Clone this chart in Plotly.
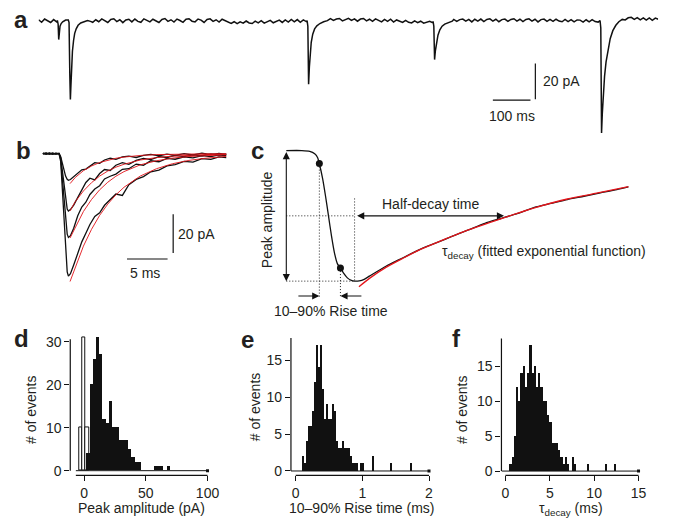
import numpy as np
import plotly.graph_objects as go

W, H = 675, 523
FONT = "Liberation Sans, Arial, Helvetica, sans-serif"
INK = "#231f20"
RED = "#e3151b"

# ---------------- panel a : continuous recording (ms, pA) ----------------
a_step_ms = 8
a_baseline_pA = [
    0.6, -0.8, 1.0, -0.2, -0.9, 0.7, -0.6, 0.9, -0.7, 0.4,
    0.2, -0.7, 0.8, -1.1, 0.5, 0.9, -0.4, 1.0, -0.8, 0.6,
    -0.5, 1.1, -0.1, -0.9, 0.8, 1.2, -0.4, 0.6, -1.0, 0.5,
    0.9, -0.6, 1.0, -0.3, -0.8, 1.1, 0.3, -0.6, 0.9, -0.1,
    -0.9, 0.8, 1.3, -0.3, 0.6, -0.7, 1.0, 0.2, -0.8, 0.9,
    1.2, -0.2, -0.6, 1.0, 0.4, -0.9, 0.8, 1.1, -0.3, 0.6,
    -0.7, 0.9, 0.1, -1.0, -1.4, -0.5, -1.6, -0.6, -1.3, -0.1,
    -1.2, -1.5, -0.2, -1.1, 0.1, -1.3, -0.5, 0.3, -1.1, -0.2,
    0.4, -0.9, 0.5, -0.7, 0.8, -0.6, 0.7, -0.8, 0.5, -0.4,
    0.6, -0.5, 0.9, 0.0, -0.6, 1.0, 0.1, 1.2, 0.2, 1.0,
    1.3, 0.0, 0.9, 1.4, 0.2, 1.1, -0.2, 1.0, 1.3, 0.0,
    0.9, -0.3, 1.1, 0.1, -0.6, 0.8, -0.3, 0.9, -0.7, 0.5,
    -0.4, -0.9, 0.3, -0.8, -1.2, 0.0, -1.0, -0.2, -1.3, -0.6,
    -0.3, -1.1, 0.3, -0.2, -0.7, 0.6, -0.2, -0.6, 0.8, -0.3,
    0.7, 1.0, -0.2, 0.8, -0.6, 0.9, -0.1, 1.0, -0.4, 0.8,
    1.1, -0.1, 0.9, -0.5, 0.7, 1.0, -0.3, 0.8, 1.2, -0.1,
    0.9, -0.4, 0.8, 1.1, -0.1, 0.9, -0.6, 0.7, 1.0, -0.3,
    0.8, -0.3, 0.9, -0.1, -0.5, 0.8, -0.4, 0.7, -0.6, 0.5,
    0.4, -0.7, 0.6, -0.6, 0.7, -0.4, -0.7, 0.5, 0.8, -0.2,
    1.2, 0.7, 1.9, 0.6, 1.8, 0.5, 1.7, 2.0, 0.8, 1.8,
    0.6, 1.7, 0.4, 1.6, 0.3, 1.5, 0.9,
]
a_ev0_t = [50, 52, 53.5, 55, 57, 60, 64, 70]
a_ev0_i = [0.2, -2.0, -10.5, -6.0, -3.0, -1.5, -0.5, 0.2]
a_ev1_t = [79, 81, 83, 84.5, 86, 88, 90, 93, 96, 100, 105, 112, 120, 130, 138]
a_ev1_i = [0.4, -1.0, -30, -44, -36, -25, -17, -11, -7, -4.5, -2.5, -1.2, -0.4, 0.2, -0.3]
a_ev3_t = [714, 716, 718, 720, 722, 725, 729, 734, 740, 748, 758, 768]
a_ev3_i = [0.1, -3.0, -35.5, -26, -18, -12, -7.5, -4.5, -2.8, -1.5, -0.5, 0.1]
a_ev4_t = [1049, 1051, 1053, 1055, 1058, 1062, 1067, 1073, 1080, 1090, 1100]
a_ev4_i = [-0.3, -3.0, -21.7, -17, -12, -8, -5, -3, -1.8, -0.8, -0.2]
a_ev5_t = [1493, 1495, 1497, 1499, 1502, 1505, 1509, 1514, 1520, 1527, 1535, 1543, 1552]
a_ev5_i = [0.2, -4.0, -62.8, -52, -40, -31, -23, -16, -10, -5.5, -2.5, -0.5, 0.8]
a_scalebar_ms = 100
a_scalebar_pA = 20

# ---------------- panel b : averaged events with fits (ms, pA) ----------------
b_t = [0, 0.4, 0.8, 1.2, 1.6, 2.0, 2.2, 2.5, 2.8, 3.0, 3.15, 3.4, 3.8, 4.3, 4.8, 5.3,
       5.8, 6.4, 7.0, 7.6, 8.3, 9.0, 9.8, 10.6, 11.5, 12.4, 13.3, 14.3, 15.3, 16.3,
       17.4, 18.5, 19.6, 20.7, 21.7, 22.6]
b_trace1 = [0.3, -0.2, 0.4, -0.1, 0.3, 0.1, -1.5, -7, -11.5, -13.2, -13.7, -13.3, -12.0,
            -10.2, -8.3, -7.9, -6.3, -4.6, -4.9, -3.2, -2.2, -2.9, -1.6, -1.2, -1.9, -0.8,
            -0.3, -1.0, -0.2, -0.8, 0.1, -0.6, 0.3, -0.4, 0.2, -0.3]
b_trace2 = [0.1, 0.4, -0.3, 0.2, -0.1, 0.3, -2, -13, -24, -28.5, -29.6, -28.8, -26.5,
            -22.5, -18.0, -14.8, -12.6, -13.5, -10.2, -8.1, -8.6, -5.9, -4.6, -5.4, -3.4,
            -2.4, -3.0, -1.5, -1.9, -0.8, -1.4, -0.5, -1.1, 0.0, -0.7, -0.2]
b_trace3 = [-0.2, 0.3, 0.0, 0.4, -0.2, 0.1, -3, -19, -35, -41.5, -43.2, -42.3, -38.5,
            -32.0, -27.5, -25.0, -21.0, -18.2, -16.5, -13.0, -11.6, -10.5, -8.0, -7.7,
            -5.3, -5.9, -3.6, -4.1, -2.4, -2.8, -1.6, -2.1, -0.9, -1.4, -0.5, -1.0]
b_trace4 = [0.2, -0.1, 0.3, -0.3, 0.2, 0.0, -4, -28, -52, -61, -63.2, -62.0, -57.5,
            -51.0, -45.5, -41.0, -36.5, -32.4, -30.5, -26.6, -23.5, -20.8, -21.5, -16.0,
            -13.2, -11.8, -9.3, -8.4, -6.2, -5.6, -3.9, -4.3, -2.5, -2.9, -1.6, -2.0]
b_fit_t = [3.35, 4, 5, 6, 7, 8, 9, 10, 12, 14, 16, 18, 20, 22.6]
b_fit1 = [-15.4, -12.2, -8.7, -6.3, -4.5, -3.2, -2.3, -1.7, -0.85, -0.4, -0.2, -0.1, 0.0, 0.0]
b_fit2 = [-29.5, -24.7, -19.2, -14.9, -11.5, -8.9, -6.9, -5.4, -3.2, -1.95, -1.2, -0.7, -0.4, -0.2]
b_fit3 = [-43.5, -37.8, -29.8, -23.6, -18.6, -14.7, -11.6, -9.2, -5.7, -3.6, -2.2, -1.4, -0.87, -0.47]
b_fit4 = [-66.0, -58.4, -47.7, -39.0, -31.8, -26.0, -21.2, -17.3, -11.5, -7.7, -5.1, -3.4, -2.3, -1.35]
b_scalebar_ms = 5
b_scalebar_pA = 20

# ---------------- panel c : schematic event (arb. time, normalised amplitude) ----------------
c_u = [0, 1.57, 2.37, 2.87, 3.17, 3.34, 3.67, 3.97, 4.27, 4.57, 4.87, 5.17, 5.47, 5.77,
       6.17, 6.57, 6.9, 7.37, 7.87, 8.4, 10.07, 11.74, 13.4, 15.07, 16.74, 18.4, 20.07,
       21.74, 23.4, 25.07, 26.74, 28.4, 30.07, 31.74, 33.4, 34.57]
c_a = [0, 0, -0.006, -0.025, -0.055, -0.101, -0.215, -0.352, -0.504, -0.656, -0.785,
       -0.868, -0.9, -0.937, -0.975, -0.995, -1.0, -0.998, -0.986, -0.962, -0.886, -0.823,
       -0.760, -0.709, -0.658, -0.608, -0.557, -0.519, -0.481, -0.435, -0.405, -0.375,
       -0.350, -0.324, -0.299, -0.278]
c_fit_u = [7.34, 8.4, 10.07, 11.74, 13.4, 15.07, 18.4, 21.74, 25.07, 28.4, 31.74, 34.57]
c_fit_a = [-1.043, -0.979, -0.895, -0.827, -0.763, -0.709, -0.608, -0.521, -0.439, -0.371,
           -0.321, -0.276]
c_dot_u = [3.34, 5.47]          # 10 % and 90 % points
c_dot_a = [-0.1, -0.9]
c_peak_u = 6.9                  # time of peak
c_half_decay_u = 22.0           # time when decay reaches 50 %

# ---------------- histograms ----------------
d_noise_x = [-2.6, 0.0, 2.6]
d_noise_n = [10, 31, 10]
d_bin_start, d_bin_w = 2.1, 2.6
d_counts = [4, 20, 26, 31, 27, 12, 11, 16, 10, 10, 7, 7, 7, 5, 3, 2, 2, 0, 0, 0, 0, 1, 1, 1, 0, 1]
d_xticks = [0, 50, 100]
d_yticks = [0, 10, 20, 30]

e_bin_start, e_bin_w = 0.095, 0.03
e_counts = [2, 1, 4, 6, 6, 8, 12, 17, 14, 17,
            11, 7, 9, 7, 7, 9, 8, 4, 3, 3,
            4, 3, 3, 3, 2, 1, 1, 1, 0, 1,
            1, 0, 0, 0, 0, 2, 0, 0, 0, 0,
            0, 0, 0, 0, 1, 0, 0, 0, 0, 0,
            0, 0, 0, 0, 1]
e_xticks = [0, 1, 2]
e_yticks = [0, 5, 10, 15]

f_bin_start, f_bin_w = 0.5, 0.25
f_counts = [1, 2, 5, 12, 10, 14, 15, 12, 14, 18,
            14, 15, 12, 14, 12, 10, 10, 8, 7, 4,
            4, 4, 3, 2, 1, 2, 1, 0, 2, 1,
            0, 0, 0, 0, 0, 1, 0, 0, 0, 0,
            0, 0, 0, 1, 0, 0, 0, 1]
f_xticks = [0, 5, 10, 15]
f_yticks = [0, 5, 10, 15]


# ---------------- helpers ----------------
def xd(p0, p1):
    return [p0 / W, p1 / W]


def yd(top, bot):
    return [1 - bot / H, 1 - top / H]


def px(x):
    return x / W


def py(y):
    return 1 - y / H


fig = go.Figure()

# ---- panel a trace ----
events = [(a_ev0_t, a_ev0_i), (a_ev1_t, a_ev1_i), (a_ev3_t, a_ev3_i),
          (a_ev4_t, a_ev4_i), (a_ev5_t, a_ev5_i)]
pts = []
for k, v in enumerate(a_baseline_pA):
    t = k * a_step_ms
    if any(et[0] <= t <= et[-1] for et, _ in events):
        continue
    pts.append((t, v))
for et, ei in events:
    pts += list(zip(et, ei))
pts.sort()
fig.add_trace(go.Scatter(x=[p[0] for p in pts], y=[p[1] for p in pts], mode="lines",
                         line=dict(color="#111111", width=1.5), xaxis="x", yaxis="y"))

# ---- panel b traces ----
for tr in (b_trace1, b_trace2, b_trace3, b_trace4):
    fig.add_trace(go.Scatter(x=b_t, y=tr, mode="lines", line=dict(color="#111111", width=1.3),
                             xaxis="x2", yaxis="y2"))
for ft in (b_fit1, b_fit2, b_fit3, b_fit4):
    fig.add_trace(go.Scatter(x=b_fit_t, y=ft, mode="lines", line=dict(color=RED, width=1.0),
                             opacity=0.9, xaxis="x2", yaxis="y2"))

# ---- panel c ----
fig.add_trace(go.Scatter(x=c_u, y=c_a, mode="lines", line=dict(color="#111111", width=1.3,
                         shape="spline", smoothing=0.6), xaxis="x3", yaxis="y3"))
fig.add_trace(go.Scatter(x=c_fit_u, y=c_fit_a, mode="lines",
                         line=dict(color=RED, width=1.3, shape="spline", smoothing=0.6),
                         xaxis="x3", yaxis="y3"))
fig.add_trace(go.Scatter(x=c_dot_u, y=c_dot_a, mode="markers",
                         marker=dict(color="#111111", size=7), xaxis="x3", yaxis="y3"))

# ---- histograms ----
fig.add_trace(go.Bar(x=d_noise_x, y=d_noise_n, width=d_bin_w,
                     marker=dict(color="white", line=dict(color="#111111", width=1)),
                     xaxis="x4", yaxis="y4"))
d_x = [d_bin_start + d_bin_w * (k + 0.5) for k in range(len(d_counts))]
fig.add_trace(go.Bar(x=d_x, y=d_counts, width=d_bin_w,
                     marker=dict(color="#111111", line=dict(width=0)), xaxis="x4", yaxis="y4"))
e_x = [e_bin_start + e_bin_w * (k + 0.5) for k in range(len(e_counts))]
fig.add_trace(go.Bar(x=e_x, y=e_counts, width=e_bin_w,
                     marker=dict(color="#111111", line=dict(width=0)), xaxis="x5", yaxis="y5"))
f_x = [f_bin_start + f_bin_w * (k + 0.5) for k in range(len(f_counts))]
fig.add_trace(go.Bar(x=f_x, y=f_counts, width=f_bin_w,
                     marker=dict(color="#111111", line=dict(width=0)), xaxis="x6", yaxis="y6"))

# end markers of histogram baselines
for xa, ya, xend in (("x4", "y4", d_xticks[-1]), ("x5", "y5", e_xticks[-1]), ("x6", "y6", f_xticks[-1])):
    fig.add_trace(go.Scatter(x=[xend], y=[0], mode="markers",
                             marker=dict(color="#111111", size=3, symbol="square"),
                             xaxis=xa, yaxis=ya))

shapes = []
L = dict(color="#111111", width=1.2)
DOT = dict(color="#222222", width=1, dash="1px,2px")

# scale bars a
a_sb_t0, a_sb_i0 = 1208, -44.4
shapes.append(dict(type="line", xref="x", yref="y", x0=a_sb_t0, x1=a_sb_t0 + a_scalebar_ms,
                   y0=a_sb_i0, y1=a_sb_i0, line=L))
shapes.append(dict(type="line", xref="x", yref="y", x0=1321, x1=1321,
                   y0=-43.9, y1=-43.9 + a_scalebar_pA, line=L))
# scale bars b
shapes.append(dict(type="line", xref="x2", yref="y2", x0=10.37, x1=10.37 + b_scalebar_ms,
                   y0=-54.36, y1=-54.36, line=L))
shapes.append(dict(type="line", xref="x2", yref="y2", x0=16.06, x1=16.06,
                   y0=-51.28, y1=-51.28 + b_scalebar_pA, line=L))

# panel c dotted guides
shapes += [
    dict(type="line", xref="x3", yref="y3", x0=0, x1=c_peak_u, y0=-1, y1=-1, line=DOT),
    dict(type="line", xref="x3", yref="y3", x0=0, x1=c_peak_u, y0=-0.5, y1=-0.5, line=DOT),
    dict(type="line", xref="x3", yref="y3", x0=c_dot_u[0], x1=c_dot_u[0], y0=c_dot_a[0], y1=-1.127, line=DOT),
    dict(type="line", xref="x3", yref="y3", x0=c_dot_u[1], x1=c_dot_u[1], y0=c_dot_a[1], y1=-1.127, line=DOT),
    dict(type="line", xref="x3", yref="y3", x0=c_peak_u, x1=c_peak_u, y0=-0.367, y1=-1.0, line=DOT),
]

# histogram axis lines and baselines
AX = dict(color="#111111", width=1.2)
BASE = dict(color="#111111", width=1)
for xa, ya, ytop, xl0, xl1, b0 in (("x4", "y4", 30.6, -6.7, d_xticks[-1], -6.7),
                                   ("x5", "y5", 18.0, 0, e_xticks[-1], -0.07),
                                   ("x6", "y6", 19.0, 0, f_xticks[-1], -0.44)):
    shapes.append(dict(type="line", xref=xa + " domain", yref=ya, x0=0, x1=0, y0=0, y1=ytop, line=AX))
    shapes.append(dict(type="line", xref=xa, yref=ya + " domain", x0=xl0, x1=xl1, y0=0, y1=0, line=AX))
    shapes.append(dict(type="line", xref=xa, yref=ya, x0=b0, x1=xl1, y0=0, y1=0, line=BASE))

annotations = []


def txt(s, x, y, size=14, xanchor="center", angle=0, bold=False):
    annotations.append(dict(text=("<b>%s</b>" % s) if bold else s, x=px(x), y=py(y),
                            xref="paper", yref="paper", showarrow=False, xanchor=xanchor,
                            yanchor="middle", textangle=angle,
                            font=dict(family=FONT, size=size, color=INK)))


# panel letters
for lab, x, base in (("a", 12, 28), ("b", 14, 160), ("c", 252, 160), ("d", 12, 350),
                     ("e", 241, 351), ("f", 455, 350)):
    txt(lab, x, base - 8.4, size=24, xanchor="left", bold=True)

txt("20 pA", 547, 82, xanchor="left")
txt("100 ms", 517, 117)
txt("20 pA", 178, 236, xanchor="left")
txt("5 ms", 147, 275)
txt("Peak amplitude", 270, 221.7, angle=-90)
txt("Half-decay time", 435, 205.5)
txt("τ<sub>decay</sub> (fitted exponential function)", 445, 254, xanchor="left")
txt("10–90% Rise time", 334.7, 313)
txt("# of events", 32, 412.5, angle=-90)
txt("# of events", 258, 410, angle=-90)
txt("# of events", 467.5, 412.5, angle=-90)
txt("Peak amplitude (pA)", 142.5, 512)
txt("10–90% Rise time (ms)", 366, 512)
txt("τ<sub>decay</sub> (ms)", 577, 513)

# arrows in panel c
ARW = dict(xref="x3", yref="y3", axref="x3", ayref="y3", text="", showarrow=True,
           arrowhead=2, arrowsize=1.3, arrowwidth=1.1, arrowcolor="#111111")
annotations.append(dict(ARW, x=0, y=-1, ax=0, ay=0, arrowside="end+start", startarrowhead=2,
                        startarrowsize=1.3))
annotations.append(dict(ARW, x=c_half_decay_u, y=-0.5, ax=7.0, ay=-0.5, arrowside="end+start",
                        startarrowhead=2, startarrowsize=1.3))
annotations.append(dict(ARW, x=c_dot_u[0], y=-1.114, ax=1.07, ay=-1.114))
annotations.append(dict(ARW, x=c_dot_u[1], y=-1.114, ax=7.74, ay=-1.114))

hidden = dict(visible=False, fixedrange=True)
tickfont = dict(family=FONT, size=14, color=INK)
hist_ax = dict(showgrid=False, zeroline=False, showline=False, ticks="outside", ticklen=5,
               tickwidth=1, tickcolor="#111111", tickfont=tickfont, fixedrange=True)

fig.update_layout(
    width=W, height=H, margin=dict(l=0, r=0, t=0, b=0),
    paper_bgcolor="white", plot_bgcolor="rgba(0,0,0,0)",
    showlegend=False, hovermode=False, barmode="overlay", bargap=0,
    font=dict(family=FONT, color=INK),
    xaxis=dict(hidden, domain=xd(39, 665), range=[0, 1647.4], anchor="y"),
    yaxis=dict(hidden, domain=yd(5, 150), range=[-71.67, 8.89], anchor="x"),
    xaxis2=dict(hidden, domain=xd(40, 235), range=[-0.402, 23.378], anchor="y2"),
    yaxis2=dict(hidden, domain=yd(138, 292), range=[-70.26, 8.72], anchor="x2"),
    xaxis3=dict(hidden, domain=xd(240, 670), range=[-4.93, 38.07], anchor="y3"),
    yaxis3=dict(hidden, domain=yd(135, 325), range=[-1.317, 0.127], anchor="x3"),
    xaxis4=dict(hist_ax, domain=xd(71, 215), range=[-11.23, 104.25], anchor="y4", tickvals=d_xticks),
    yaxis4=dict(hist_ax, domain=yd(335, 479), range=[-1.085, 32.17], anchor="x4", tickvals=d_yticks),
    xaxis5=dict(hist_ax, domain=xd(294, 440), range=[-0.0713, 2.0965], anchor="y5", tickvals=e_xticks),
    yaxis5=dict(hist_ax, domain=yd(335, 479), range=[-0.59, 18.74], anchor="x5", tickvals=e_yticks),
    xaxis6=dict(hist_ax, domain=xd(506.7, 655), range=[-0.446, 16.09], anchor="y6", tickvals=f_xticks),
    yaxis6=dict(hist_ax, domain=yd(335, 479), range=[-0.61, 19.87], anchor="x6", tickvals=f_yticks),
    shapes=shapes, annotations=annotations,
)

fig.write_html("out.html", config={"displayModeBar": False},
               post_script="document.body.style.margin='0px';document.body.style.padding='0px';"
                           "document.documentElement.style.overflow='hidden';")
